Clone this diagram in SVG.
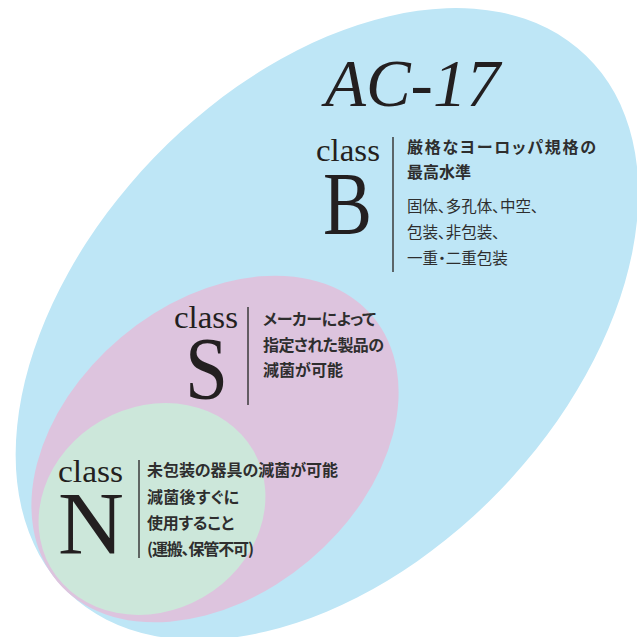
<svg xmlns="http://www.w3.org/2000/svg" width="637" height="637" viewBox="0 0 637 637">
<style>
.serif{font-family:"Liberation Serif","Times New Roman",serif;fill:#231f20}
.cls{font-size:32px}
.big{font-size:88px}
.jb{font-family:"Noto Sans CJK JP","Noto Sans",sans-serif;font-weight:700;fill:#2e2e2e;font-size:16px;font-feature-settings:"palt"}
.jr{font-family:"Noto Sans CJK JP","Noto Sans",sans-serif;font-weight:400;fill:#2e2e2e;font-size:15.5px;font-feature-settings:"palt"}
.bar{stroke:#3a3a3a;stroke-width:1.5}
</style>
<rect width="637" height="637" fill="#ffffff"/>
<g id="classB">
<ellipse cx="327" cy="324" rx="373" ry="240" transform="rotate(-46 327 324)" fill="#bee6f6"/>
</g>
<g id="classS">
<ellipse cx="215" cy="449" rx="206" ry="146" transform="rotate(-40 215 449)" fill="#ddc4de"/>
</g>
<g id="classN">
<ellipse cx="152" cy="509" rx="117" ry="102" transform="rotate(-30 152 509)" fill="#cce7da"/>
</g>
<g id="title">
<text class="serif" x="325" y="106" font-size="67" font-style="italic">AC-17</text>
</g>
<g id="labelB">
<text class="serif cls" x="316" y="161" textLength="64" lengthAdjust="spacingAndGlyphs">class</text>
<text class="serif big" x="323" y="233" textLength="49" lengthAdjust="spacingAndGlyphs">B</text>
<line class="bar" x1="393" y1="137" x2="393" y2="272"/>
<text class="jb" x="407" y="153" font-size="17.5" textLength="189">厳格なヨーロッパ規格の</text>
<text class="jb" x="407" y="178" font-size="17.5">最高水準</text>
<text class="jr" x="407" y="212">固体、多孔体、中空、</text>
<text class="jr" x="407" y="238">包装、非包装、</text>
<text class="jr" x="407" y="264">一重・二重包装</text>
</g>
<g id="labelS">
<text class="serif cls" x="174" y="328" textLength="64" lengthAdjust="spacingAndGlyphs">class</text>
<text class="serif big" x="185" y="398" textLength="43" lengthAdjust="spacingAndGlyphs">S</text>
<line class="bar" x1="248" y1="307" x2="248" y2="405"/>
<text class="jb" x="263" y="325" textLength="113">メーカーによって</text>
<text class="jb" x="263" y="351" textLength="121">指定された製品の</text>
<text class="jb" x="263" y="376" textLength="80">減菌が可能</text>
</g>
<g id="labelN">
<text class="serif cls" x="58" y="482" textLength="65" lengthAdjust="spacingAndGlyphs">class</text>
<text class="serif big" x="58" y="553" textLength="66" lengthAdjust="spacingAndGlyphs">N</text>
<line class="bar" x1="139" y1="460" x2="139" y2="558"/>
<text class="jb" x="147" y="476" textLength="191">未包装の器具の減菌が可能</text>
<text class="jb" x="147" y="503" textLength="92">減菌後すぐに</text>
<text class="jb" x="147" y="529" textLength="87">使用すること</text>
<text class="jb" x="147" y="555" textLength="107">(運搬、保管不可)</text>
</g>
<g id="connectors"></g>
</svg>
